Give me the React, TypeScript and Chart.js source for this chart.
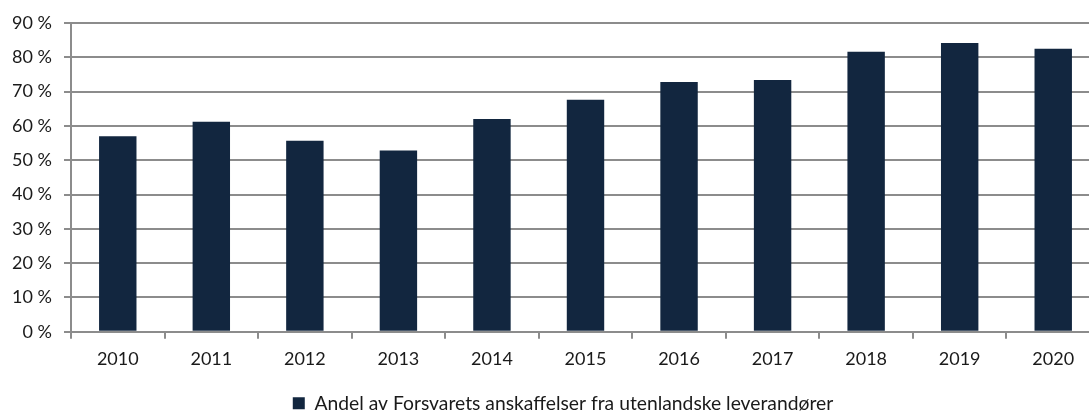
import React, { useEffect, useRef } from "react";
import { Chart, registerables } from "chart.js";

Chart.register(...registerables);

const categories = ["2010", "2011", "2012", "2013", "2014", "2015", "2016", "2017", "2018", "2019", "2020"];
const shareValues = [57, 61.2, 55.7, 52.8, 62, 67.6, 72.8, 73.4, 81.6, 84.2, 82.5];
const seriesLabel = "Andel av Forsvarets anskaffelser fra utenlandske leverandører";
const yMin = 0;
const yMax = 90;
const yStep = 10;

const BAR = "#12263f";
const GRID = "#8c8c8c";
const TEXT = "#1a1a1a";

export default function App() {
  const ref = useRef<HTMLCanvasElement | null>(null);

  useEffect(() => {
    if (!ref.current) return;
    const chart = new Chart(ref.current, {
      type: "bar",
      data: {
        labels: categories,
        datasets: [
          {
            label: seriesLabel,
            data: shareValues,
            backgroundColor: BAR,
            borderWidth: 0,
            barPercentage: 0.4,
            categoryPercentage: 1,
            yAxisID: "y",
          },
        ],
      },
      options: {
        animation: false,
        responsive: true,
        maintainAspectRatio: false,
        layout: { padding: { left: 0, right: 0, top: 23, bottom: 0 } },
        font: { family: "Lato" },
        plugins: {
          tooltip: { enabled: false },
          legend: {
            position: "bottom",
            labels: {
              color: TEXT,
              font: { family: "Lato", size: 19.3 },
              boxWidth: 12,
              boxHeight: 12,
              padding: 10,
            },
          },
        },
        scales: {
          x: {
            offset: true,
            grid: {
              offset: true,
              drawOnChartArea: false,
              drawTicks: true,
              tickLength: 7,
              color: GRID,
              lineWidth: 2,
            },
            border: { display: true, color: GRID, width: 2 },
            ticks: {
              color: TEXT,
              font: { family: "Lato", size: 18 },
              padding: 10,
              maxRotation: 0,
            },
            afterFit: (scale: any) => {
              scale.height = 52;
            },
          },
          y: {
            position: "left",
            min: yMin,
            max: yMax,
            grid: {
              color: GRID,
              lineWidth: 2,
              tickLength: 7,
              drawTicks: true,
            },
            border: { display: true, color: GRID, width: 2 },
            ticks: {
              stepSize: yStep,
              color: TEXT,
              font: { family: "Lato", size: 18 },
              padding: 12,
              callback: (v: any) => `${v} %`,
            },
            afterFit: (scale: any) => {
              scale.width = 71;
            },
          },
          yRight: {
            position: "right",
            display: true,
            min: yMin,
            max: yMax,
            grid: { display: false, drawTicks: false },
            border: { display: false },
            ticks: { display: false },
            afterFit: (scale: any) => {
              scale.width = 26;
            },
          },
        },
      },
    });
    return () => chart.destroy();
  }, []);

  return (
    <div style={{ position: "fixed", left: 0, top: 0, width: 1089, height: 412, overflow: "hidden", background: "#fff" }}>
      <div style={{ position: "absolute", left: 0, top: 0, width: 1126, height: 423 }}>
        <canvas ref={ref} />
      </div>
    </div>
  );
}
